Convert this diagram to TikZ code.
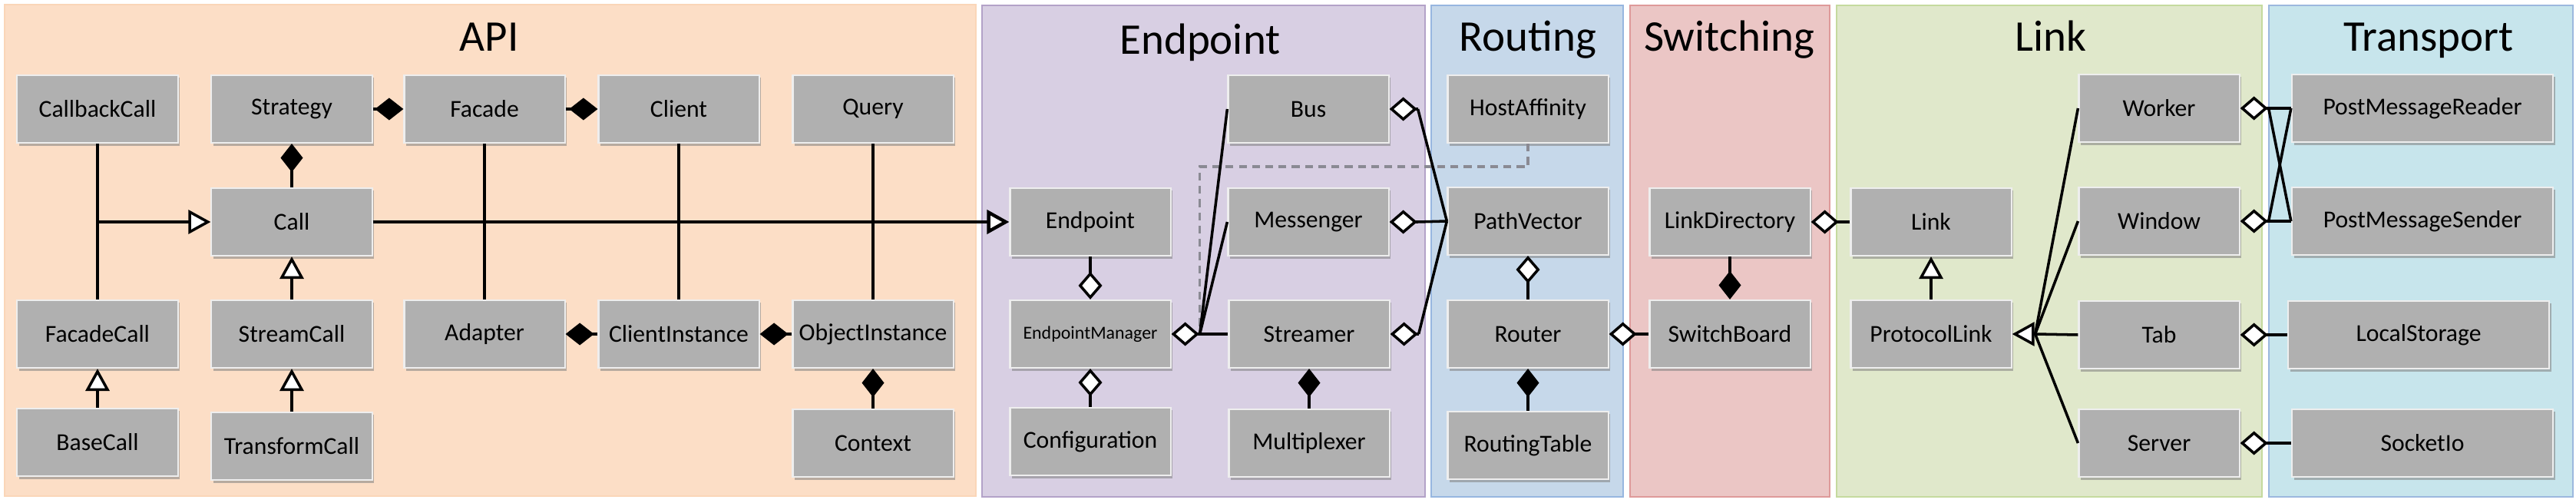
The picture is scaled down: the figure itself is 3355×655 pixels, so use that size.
\documentclass[tikz,border=0pt]{standalone}
\usepackage{fontspec}
\setmainfont{Carlito}
\usepackage{tikz}
\usetikzlibrary{calc,arrows.meta,shadows}

\definecolor{apibg}{HTML}{FCDEC6}
\definecolor{apiline}{HTML}{FAD6B8}
\definecolor{endbg}{HTML}{D8CFE3}
\definecolor{endline}{HTML}{B3A2C8}
\definecolor{routebg}{HTML}{C6D8EA}
\definecolor{routeline}{HTML}{97B6E0}
\definecolor{switchbg}{HTML}{EBC6C5}
\definecolor{switchline}{HTML}{DE9A9A}
\definecolor{linkbg}{HTML}{E0E8CB}
\definecolor{linkline}{HTML}{C5DA9E}
\definecolor{transbg}{HTML}{C7E5EC}
\definecolor{transline}{HTML}{9CB8DE}
\definecolor{boxgray}{HTML}{B0B0B0}
\definecolor{boxline}{HTML}{EEEEEE}
\definecolor{dashgray}{HTML}{8A8A93}

\tikzset{
	box/.style={draw=boxline, line width=0.6pt, fill=boxgray, minimum width=2.09cm, minimum height=0.88cm, inner sep=0pt, font=\fontsize{9}{11}\selectfont, drop shadow={shadow xshift=0.8pt, shadow yshift=-1pt, opacity=0.55}},
	widebox/.style={box, minimum width=3.4cm},
	layer/.style={anchor=base, font=\fontsize{16.2}{19}\selectfont},
	panel/.style={line width=0.6pt},
	conn/.style={line width=1pt, line join=miter},
	has/.style={conn, -{Diamond[length=3.7mm, width=2.9mm]}},
	agg/.style={conn, -{Diamond[fill=white, length=3.6mm, width=3.1mm]}},
	isa/.style={conn, -{Triangle[fill=white, length=2.9mm, width=3.1mm]}},
	hostdash/.style={line width=1pt, draw=dashgray, dash pattern=on 2.9pt off 2pt}
}

\begin{document}
\begin{tikzpicture}[x=0.01cm, y=-0.01cm]
	
	\useasboundingbox (0,0) rectangle (3355,655);
	
	\draw[panel, fill=apibg, draw=apiline] (6,6) rectangle (1271,646);
	\draw[panel, fill=endbg, draw=endline] (1279,7) rectangle (1856,647);
	\draw[panel, fill=routebg, draw=routeline] (1864,7) rectangle (2114,647);
	\draw[panel, fill=switchbg, draw=switchline] (2123,7) rectangle (2383,647);
	\draw[panel, fill=linkbg, draw=linkline] (2392,7) rectangle (2946,647);
	\draw[panel, fill=transbg, draw=transline] (2955,7) rectangle (3351,647);
	
	\node[layer] (tapi) at (637,67) {API};
	\node[layer] (tend) at (1563,71) {Endpoint};
	\node[layer] (troute) at (1990,67) {Routing};
	\node[layer] (tswitch) at (2252,67) {Switching};
	\node[layer] (tlink) at (2671,67) {Link};
	\node[layer] (ttrans) at (3163,67) {Transport};
	
	% API
	\node[box] (CallbackCall) at (127,142) {CallbackCall};
	\node[box] (Strategy) at (380,142) {Strategy};
	\node[box] (Facade) at (631,142) {Facade};
	\node[box] (Client) at (884,142) {Client};
	\node[box] (Query) at (1137,142) {Query};
	\node[box] (Call) at (380,289) {Call};
	\node[box] (FacadeCall) at (127,435) {FacadeCall};
	\node[box] (StreamCall) at (380,435) {StreamCall};
	\node[box] (Adapter) at (631,435) {Adapter};
	\node[box] (ClientInstance) at (884,435) {ClientInstance};
	\node[box] (ObjectInstance) at (1137,435) {ObjectInstance};
	\node[box] (BaseCall) at (127,576) {BaseCall};
	\node[box] (TransformCall) at (380,581) {TransformCall};
	\node[box] (Context) at (1137,577) {Context};
	
	% Endpoint
	\node[box] (Endpoint) at (1420,289) {Endpoint};
	\node[box, font=\fontsize{6.8}{8}\selectfont] (EndpointManager) at (1420,435) {EndpointManager};
	\node[box] (Configuration) at (1420,575) {Configuration};
	\node[box] (Bus) at (1704,142) {Bus};
	\node[box] (Messenger) at (1704,289) {Messenger};
	\node[box] (Streamer) at (1705,435) {Streamer};
	\node[box] (Multiplexer) at (1705,577) {Multiplexer};
	
	% Routing
	\node[box] (HostAffinity) at (1990,142) {HostAffinity};
	\node[box] (PathVector) at (1990,288) {PathVector};
	\node[box] (Router) at (1990,435) {Router};
	\node[box] (RoutingTable) at (1990,580) {RoutingTable};
	
	% Switching
	\node[box] (LinkDirectory) at (2253,289) {LinkDirectory};
	\node[box] (SwitchBoard) at (2253,435) {SwitchBoard};
	
	% Link
	\node[box] (Link) at (2515,289) {Link};
	\node[box] (ProtocolLink) at (2515,435) {ProtocolLink};
	\node[box] (Worker) at (2812,141) {Worker};
	\node[box] (Window) at (2812,288) {Window};
	\node[box] (Tab) at (2812,436) {Tab};
	\node[box] (Server) at (2812,577) {Server};
	
	% Transport
	\node[widebox] (PostMessageReader) at (3155,141) {PostMessageReader};
	\node[widebox] (PostMessageSender) at (3155,288) {PostMessageSender};
	\node[widebox] (LocalStorage) at (3150,436) {LocalStorage};
	\node[widebox] (SocketIo) at (3155,577) {SocketIo};
	
	% API links
	\coordinate (callfork) at (CallbackCall |- Call);
	\draw[conn] (CallbackCall) -- (FacadeCall);
	\draw[isa] (callfork) -- (Call);
	\draw[isa] (BaseCall) -- (FacadeCall);
	\draw[isa] (StreamCall) -- (Call);
	\draw[isa] (TransformCall) -- (StreamCall);
	\draw[has] (Call) -- (Strategy);
	\draw[has] (Strategy) -- (Facade);
	\draw[has] (Facade) -- (Client);
	\draw[conn] (Facade) -- (Adapter);
	\draw[conn] (Client) -- (ClientInstance);
	\draw[conn] (Query) -- (ObjectInstance);
	\draw[has] (ClientInstance) -- (Adapter);
	\draw[has] (ObjectInstance) -- (ClientInstance);
	\draw[has] (Context) -- (ObjectInstance);
	\draw[isa, line width=1.25pt] (Call) -- (Endpoint);
	
	% Endpoint links
	\draw[agg] (Endpoint) -- (EndpointManager);
	\draw[agg] (Configuration) -- (EndpointManager);
	\draw[has] (Multiplexer) -- (Streamer);
	\coordinate (emtip) at ($(EndpointManager.east)+(37,0)$);
	\draw[hostdash] (HostAffinity.south) -- ++(0,30) -| (emtip);
	\draw[agg] (emtip) -- (EndpointManager.east);
	\draw[conn] (emtip) -- (Bus.west);
	\draw[conn] (emtip) -- (Messenger.west);
	\draw[conn] (emtip) -- (Streamer.west);
	
	\coordinate (bustip) at ($(Bus.east)+(37,0)$);
	\coordinate (msgtip) at ($(Messenger.east)+(37,0)$);
	\coordinate (strtip) at ($(Streamer.east)+(37,0)$);
	\draw[agg] (bustip) -- (Bus.east);
	\draw[agg] (msgtip) -- (Messenger.east);
	\draw[agg] (strtip) -- (Streamer.east);
	\draw[conn] (bustip) -- (PathVector.west);
	\draw[conn] (msgtip) -- (PathVector.west);
	\draw[conn] (strtip) -- (PathVector.west);
	
	% Routing and Switching links
	\draw[agg] (Router) -- (PathVector);
	\draw[has] (RoutingTable) -- (Router);
	\draw[agg] (SwitchBoard) -- (Router);
	\draw[has] (LinkDirectory) -- (SwitchBoard);
	\draw[agg] (Link) -- (LinkDirectory);
	
	% Link and Transport links
	\draw[isa] (ProtocolLink) -- (Link);
	\coordinate (plbase) at ($(ProtocolLink.east)+(30,0)$);
	\draw[isa] (plbase) -- (ProtocolLink.east);
	\draw[conn] (plbase) -- (Worker.west);
	\draw[conn] (plbase) -- (Window.west);
	\draw[conn] (plbase) -- (Tab.west);
	\draw[conn] (plbase) -- (Server.west);
	
	\coordinate (workertip) at ($(Worker.east)+(37,0)$);
	\coordinate (windowtip) at ($(Window.east)+(37,0)$);
	\draw[agg] (workertip) -- (Worker.east);
	\draw[agg] (windowtip) -- (Window.east);
	\draw[conn] (workertip) -- (PostMessageReader.west);
	\draw[conn] (workertip) -- (PostMessageSender.west);
	\draw[conn] (windowtip) -- (PostMessageReader.west);
	\draw[conn] (windowtip) -- (PostMessageSender.west);
	\draw[agg] (LocalStorage) -- (Tab);
	\draw[agg] (SocketIo) -- (Server);
	
\end{tikzpicture}
\end{document}
